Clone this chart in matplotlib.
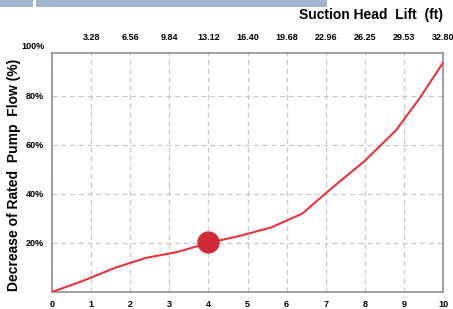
import matplotlib
matplotlib.use("Agg")
import matplotlib.pyplot as plt
from matplotlib.patches import Rectangle

# Data
lift_m = [0, 0.8, 1.6, 2.4, 3.2, 4.0, 4.8, 5.6, 6.4, 7.2, 8.0, 8.8, 9.4, 10.0]
flow_decrease = [0, 4.6, 9.8, 13.9, 16.3, 20.0, 22.9, 26.3, 32.0, 43, 53.5, 66, 79, 93.5]
marker_x = [4.0]
marker_y = [20.5]
bottom_ticks = list(range(0, 11))
top_ticks = list(range(1, 11))
top_labels = ["3.28", "6.56", "9.84", "13.12", "16.40", "19.68", "22.96", "26.25", "29.53", "32.80"]
y_ticks = [20, 40, 60, 80]
y_labels = ["20%", "40%", "60%", "80%"]

plt.rcParams['font.family'] = ['Liberation Sans', 'DejaVu Sans']

fig = plt.figure(figsize=(4.53, 3.09), dpi=100)
fig.patch.set_facecolor('white')

# Banner at top
fig.patches.append(Rectangle((0, 1 - 7/309), 327/453, 7/309, transform=fig.transFigure,
                             facecolor='#a3b5cc', edgecolor='none'))
fig.patches.append(Rectangle((33/453, 1 - 7/309), 3/453, 7/309, transform=fig.transFigure,
                             facecolor='white', edgecolor='none'))

ax = fig.add_axes([52/453, 17/309, 391/453, 239/309])
ax.plot(lift_m, flow_decrease, color='#e8343c', lw=1.5, zorder=3)
ax.plot(marker_x, marker_y, 'o', color='#d02a36', markersize=15, zorder=4)

ax.set_xlim(0, 10)
ax.set_ylim(0, 97.5)
ax.set_xticks(bottom_ticks)
ax.set_xticklabels([str(t) for t in bottom_ticks], fontsize=6.5, fontweight='bold')
ax.set_yticks(y_ticks)
ax.set_yticklabels(y_labels, fontsize=6.5, fontweight='bold')
ax.tick_params(length=0, pad=6)
ax.grid(True, color='#c8c8c8', linestyle=(0, (4, 3)), lw=0.9)
for s in ax.spines.values():
    s.set_color('#909090')
    s.set_linewidth(1.2)

ax.text(-0.18, 100, "100%", fontsize=6.5, fontweight='bold', ha='right', va='center',
        clip_on=False)

top = ax.secondary_xaxis('top')
top.set_xticks(top_ticks)
top.set_xticklabels(top_labels, fontsize=6.5, fontweight='bold')
top.tick_params(length=0, pad=8)
top.spines['top'].set_visible(False)

ax.set_ylabel("Decrease of Rated  Pump  Flow (%)", fontsize=10, fontweight='bold')
ax.yaxis.set_label_coords(-0.08, 0.49)

fig.text(443/453, 1 - 15/309, "Suction Head  Lift  (ft)", fontsize=10, fontweight='bold',
         ha='right', va='center')

fig.savefig("out.png", dpi=100)
